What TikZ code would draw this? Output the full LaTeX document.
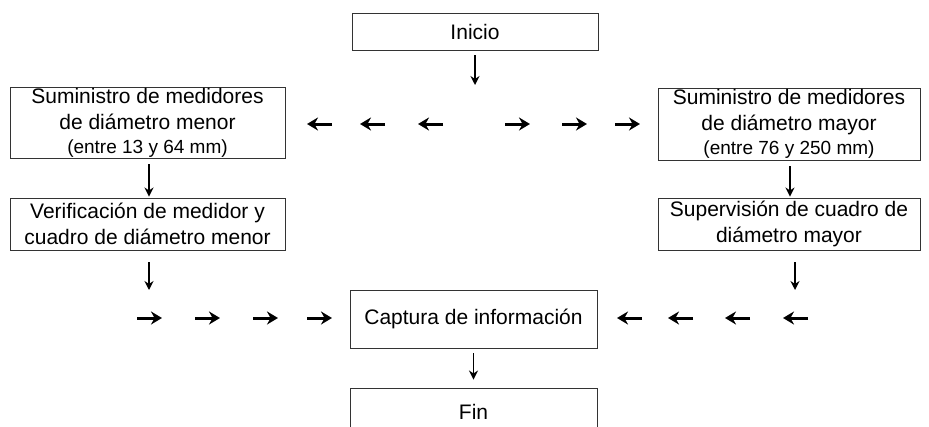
\documentclass[tikz,border=0pt]{standalone}
\usepackage{fontspec}
\setmainfont{Liberation Sans}
\usetikzlibrary{arrows.meta}
\begin{document}
\begin{tikzpicture}[x=1pt,y=-1pt,
  box/.style={draw=black!80, line width=0.9pt, rectangle, inner sep=0pt, align=center,
    font=\fontsize{21}{26}\selectfont},
  varr/.style={line width=1.6pt, -{Stealth[length=9pt,width=9pt]}},
  harr/.style={line width=3pt, -{Stealth[length=11pt,width=13pt]}}]
\useasboundingbox (0,0) rectangle (929,426);
\node[box, minimum width=246pt, minimum height=37pt] (ini) at (475,31.5) {Inicio};
\node[box, minimum width=275pt, minimum height=71pt] (lb1) at (147.5,122.5)
  {Suministro de medidores\\de diámetro menor\\[-2pt]{\fontsize{19}{22}\selectfont (entre 13 y 64 mm)}};
\node[box, minimum width=262pt, minimum height=72pt] (rb1) at (789,124)
  {Suministro de medidores\\de diámetro mayor\\[-2pt]{\fontsize{19}{22}\selectfont (entre 76 y 250 mm)}};
\node[box, minimum width=275pt, minimum height=52pt] (lb2) at (147.5,224)
  {Verificación de medidor y\\cuadro de diámetro menor};
\node[box, minimum width=262pt, minimum height=52pt] (rb2) at (789,224)
  {Supervisión de cuadro de\\diámetro mayor};
\node[box, minimum width=247pt, minimum height=58pt] (cap) at (473.5,319) {Captura de información};
\node[box, minimum width=247pt, minimum height=48pt] (fin) at (473.5,412) {Fin};
% vertical arrows
\coordinate (iniend) at (475,85);
\draw[varr] ([yshift=-5pt]ini.south -| iniend) -- (iniend);
\draw[varr, shorten <=6pt, shorten >=1pt] (lb1.south -| 149,0) -- (lb2.north -| 149,0);
\draw[varr, shorten <=6pt, shorten >=1pt] (rb1.south -| 790,0) -- (rb2.north -| 790,0);
\coordinate (lbend) at (149,290);
\coordinate (rbend) at (795,290);
\draw[varr] ([yshift=-12pt]lb2.south -| lbend) -- (lbend);
\draw[varr] ([yshift=-12pt]rb2.south -| rbend) -- (rbend);
\draw[varr, shorten <=5pt, shorten >=8pt] (cap.south) -- (fin.north);
% horizontal arrows, upper row
\foreach \i/\a/\b in {1/332/307, 2/385/360, 3/443/418, 4/505/530, 5/562/587, 6/615/640}{
  \coordinate (ua\i) at (\a,124);
  \coordinate (ub\i) at (\b,124);
  \draw[harr] (ua\i) -- (ub\i);
}
% horizontal arrows, lower row
\foreach \i/\a/\b in {1/137/162, 2/195/220, 3/253/278, 4/307/332, 5/642/617, 6/693/668, 7/750/725, 8/808/783}{
  \coordinate (da\i) at (\a,318);
  \coordinate (db\i) at (\b,318);
  \draw[harr] (da\i) -- (db\i);
}
\end{tikzpicture}
\end{document}
